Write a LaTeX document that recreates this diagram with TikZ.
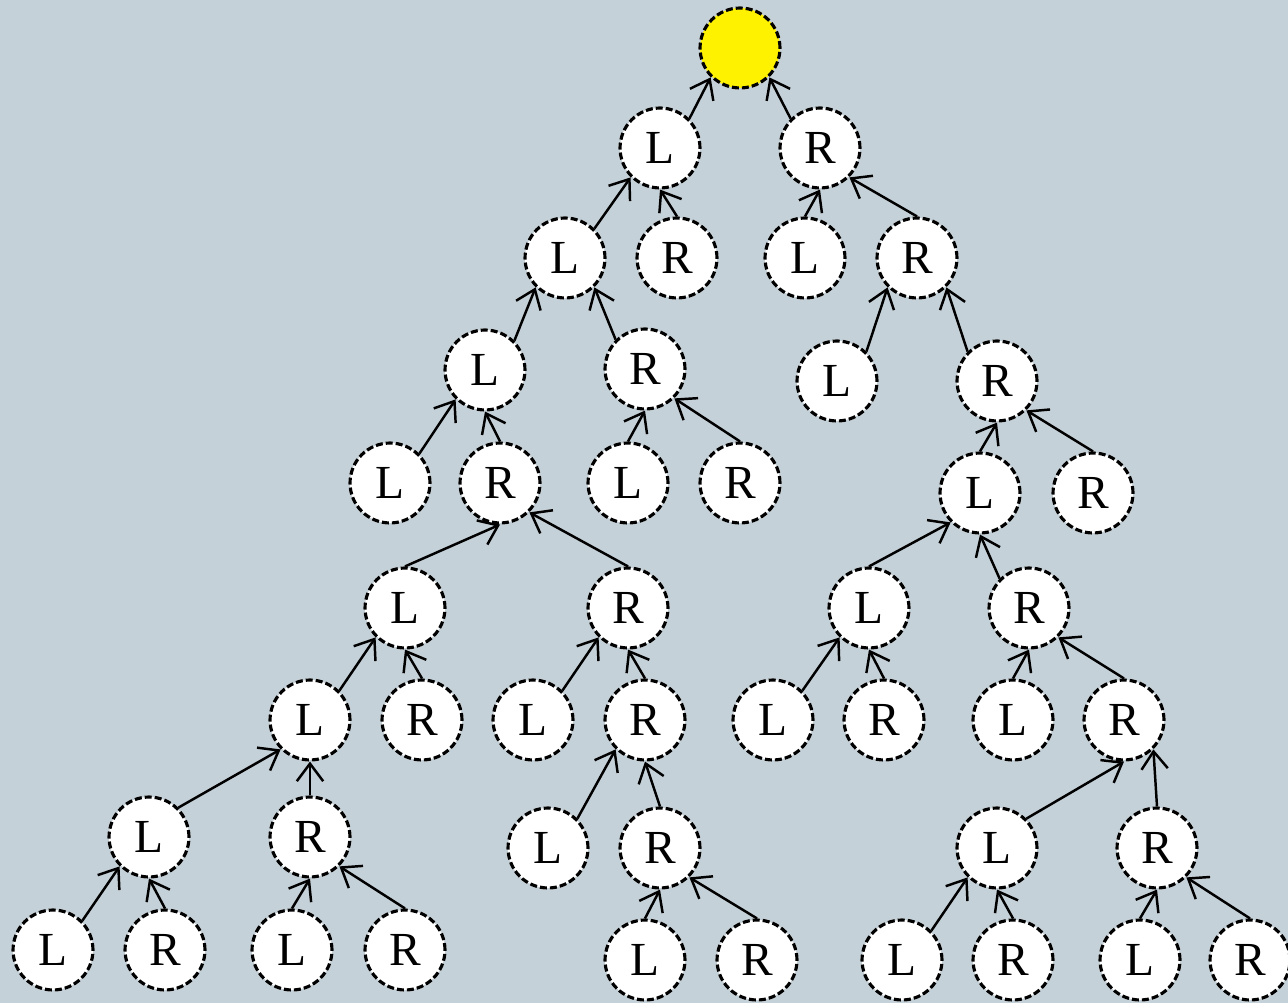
\documentclass[tikz,border=0pt]{standalone}
\usepackage{fontspec}
\setmainfont{Liberation Serif}
\usetikzlibrary{arrows.meta}
\definecolor{bgc}{RGB}{197,209,216}
\begin{document}
\begin{tikzpicture}[x=0.02cm,y=-0.02cm,
  tn/.style={circle,minimum size=1.6cm,inner sep=0pt,fill=white,
    preaction={draw=white,line width=1.8pt},
    draw=black,line width=1.8pt,dash pattern=on 4pt off 1.7pt,
    font=\fontsize{27}{30}\selectfont},
  rootn/.style={tn,fill=yellow},
  ed/.style={line width=1.4pt,-{Straight Barb[length=10pt,width=15pt,line width=1.4pt]}}]
\useasboundingbox (0,0) rectangle (1288,1003);
\fill[bgc] (0,0) rectangle (1288,1003);
\node[rootn] (root) at (740,48) {};
\node[tn] (a) at (660,148) {L};
\node[tn] (b) at (820,148) {R};
\node[tn] (aL) at (565,258) {L};
\node[tn] (aR) at (677,258) {R};
\node[tn] (bL) at (805,258) {L};
\node[tn] (bR) at (917,258) {R};
\node[tn] (aLL) at (485,370) {L};
\node[tn] (aLR) at (645,369) {R};
\node[tn] (bRL) at (837,381) {L};
\node[tn] (bRR) at (997,381) {R};
\node[tn] (aLLL) at (390,483) {L};
\node[tn] (aLLR) at (500,483) {R};
\node[tn] (aLRL) at (628,483) {L};
\node[tn] (aLRR) at (740,483) {R};
\node[tn] (bRRL) at (980,493) {L};
\node[tn] (bRRR) at (1093,493) {R};
\node[tn] (cL) at (405,608) {L};
\node[tn] (cR) at (628,608) {R};
\node[tn] (dL) at (869,608) {L};
\node[tn] (dR) at (1029,608) {R};
\node[tn] (cLL) at (310,720) {L};
\node[tn] (cLR) at (422,720) {R};
\node[tn] (cRL) at (533,720) {L};
\node[tn] (cRR) at (645,720) {R};
\node[tn] (dLL) at (773,720) {L};
\node[tn] (dLR) at (884,720) {R};
\node[tn] (dRL) at (1013,720) {L};
\node[tn] (dRR) at (1124,720) {R};
\node[tn] (cLLL) at (149,837) {L};
\node[tn] (cLLR) at (310,837) {R};
\node[tn] (cRRL) at (548,848) {L};
\node[tn] (cRRR) at (660,848) {R};
\node[tn] (dRRL) at (997,848) {L};
\node[tn] (dRRR) at (1157,848) {R};
\node[tn] (cLLLL) at (53,950) {L};
\node[tn] (cLLLR) at (165,950) {R};
\node[tn] (cLLRL) at (292,950) {L};
\node[tn] (cLLRR) at (405,950) {R};
\node[tn] (cRRRL) at (645,960) {L};
\node[tn] (cRRRR) at (757,960) {R};
\node[tn] (dRRLL) at (902,960) {L};
\node[tn] (dRRLR) at (1013,960) {R};
\node[tn] (dRRRL) at (1140,960) {L};
\node[tn] (dRRRR) at (1250,960) {R};
\foreach \c/\ca/\p/\pa in {a/45/root/225, b/135/root/315,
  aL/45/a/225, aR/90/a/270, bL/90/b/270, bR/90/b/315,
  aLL/45/aL/225, aLR/135/aL/315, bRL/45/bR/225, bRR/135/bR/315,
  aLLL/45/aLL/225, aLLR/90/aLL/270, aLRL/90/aLR/270, aLRR/90/aLR/315,
  bRRL/90/bRR/270, bRRR/90/bRR/315,
  cL/90/aLLR/270, cR/90/aLLR/315, dL/90/bRRL/225, dR/135/bRRL/270,
  cLL/45/cL/225, cLR/90/cL/270, cRL/45/cR/225, cRR/90/cR/270,
  dLL/45/dL/225, dLR/90/dL/270, dRL/90/dR/270, dRR/90/dR/315,
  cLLL/45/cLL/225, cLLR/90/cLL/270, cRRL/45/cRR/225, cRRR/90/cRR/270,
  dRRL/45/dRR/270, dRRR/90/dRR/315,
  cLLLL/45/cLLL/225, cLLLR/90/cLLL/270, cLLRL/90/cLLR/270, cLLRR/90/cLLR/315,
  cRRRL/90/cRRR/270, cRRRR/90/cRRR/315,
  dRRLL/45/dRRL/225, dRRLR/90/dRRL/270, dRRRL/90/dRRR/270, dRRRR/90/dRRR/315}
  \draw[ed] (\c.\ca) -- (\p.\pa);
\end{tikzpicture}
\end{document}
